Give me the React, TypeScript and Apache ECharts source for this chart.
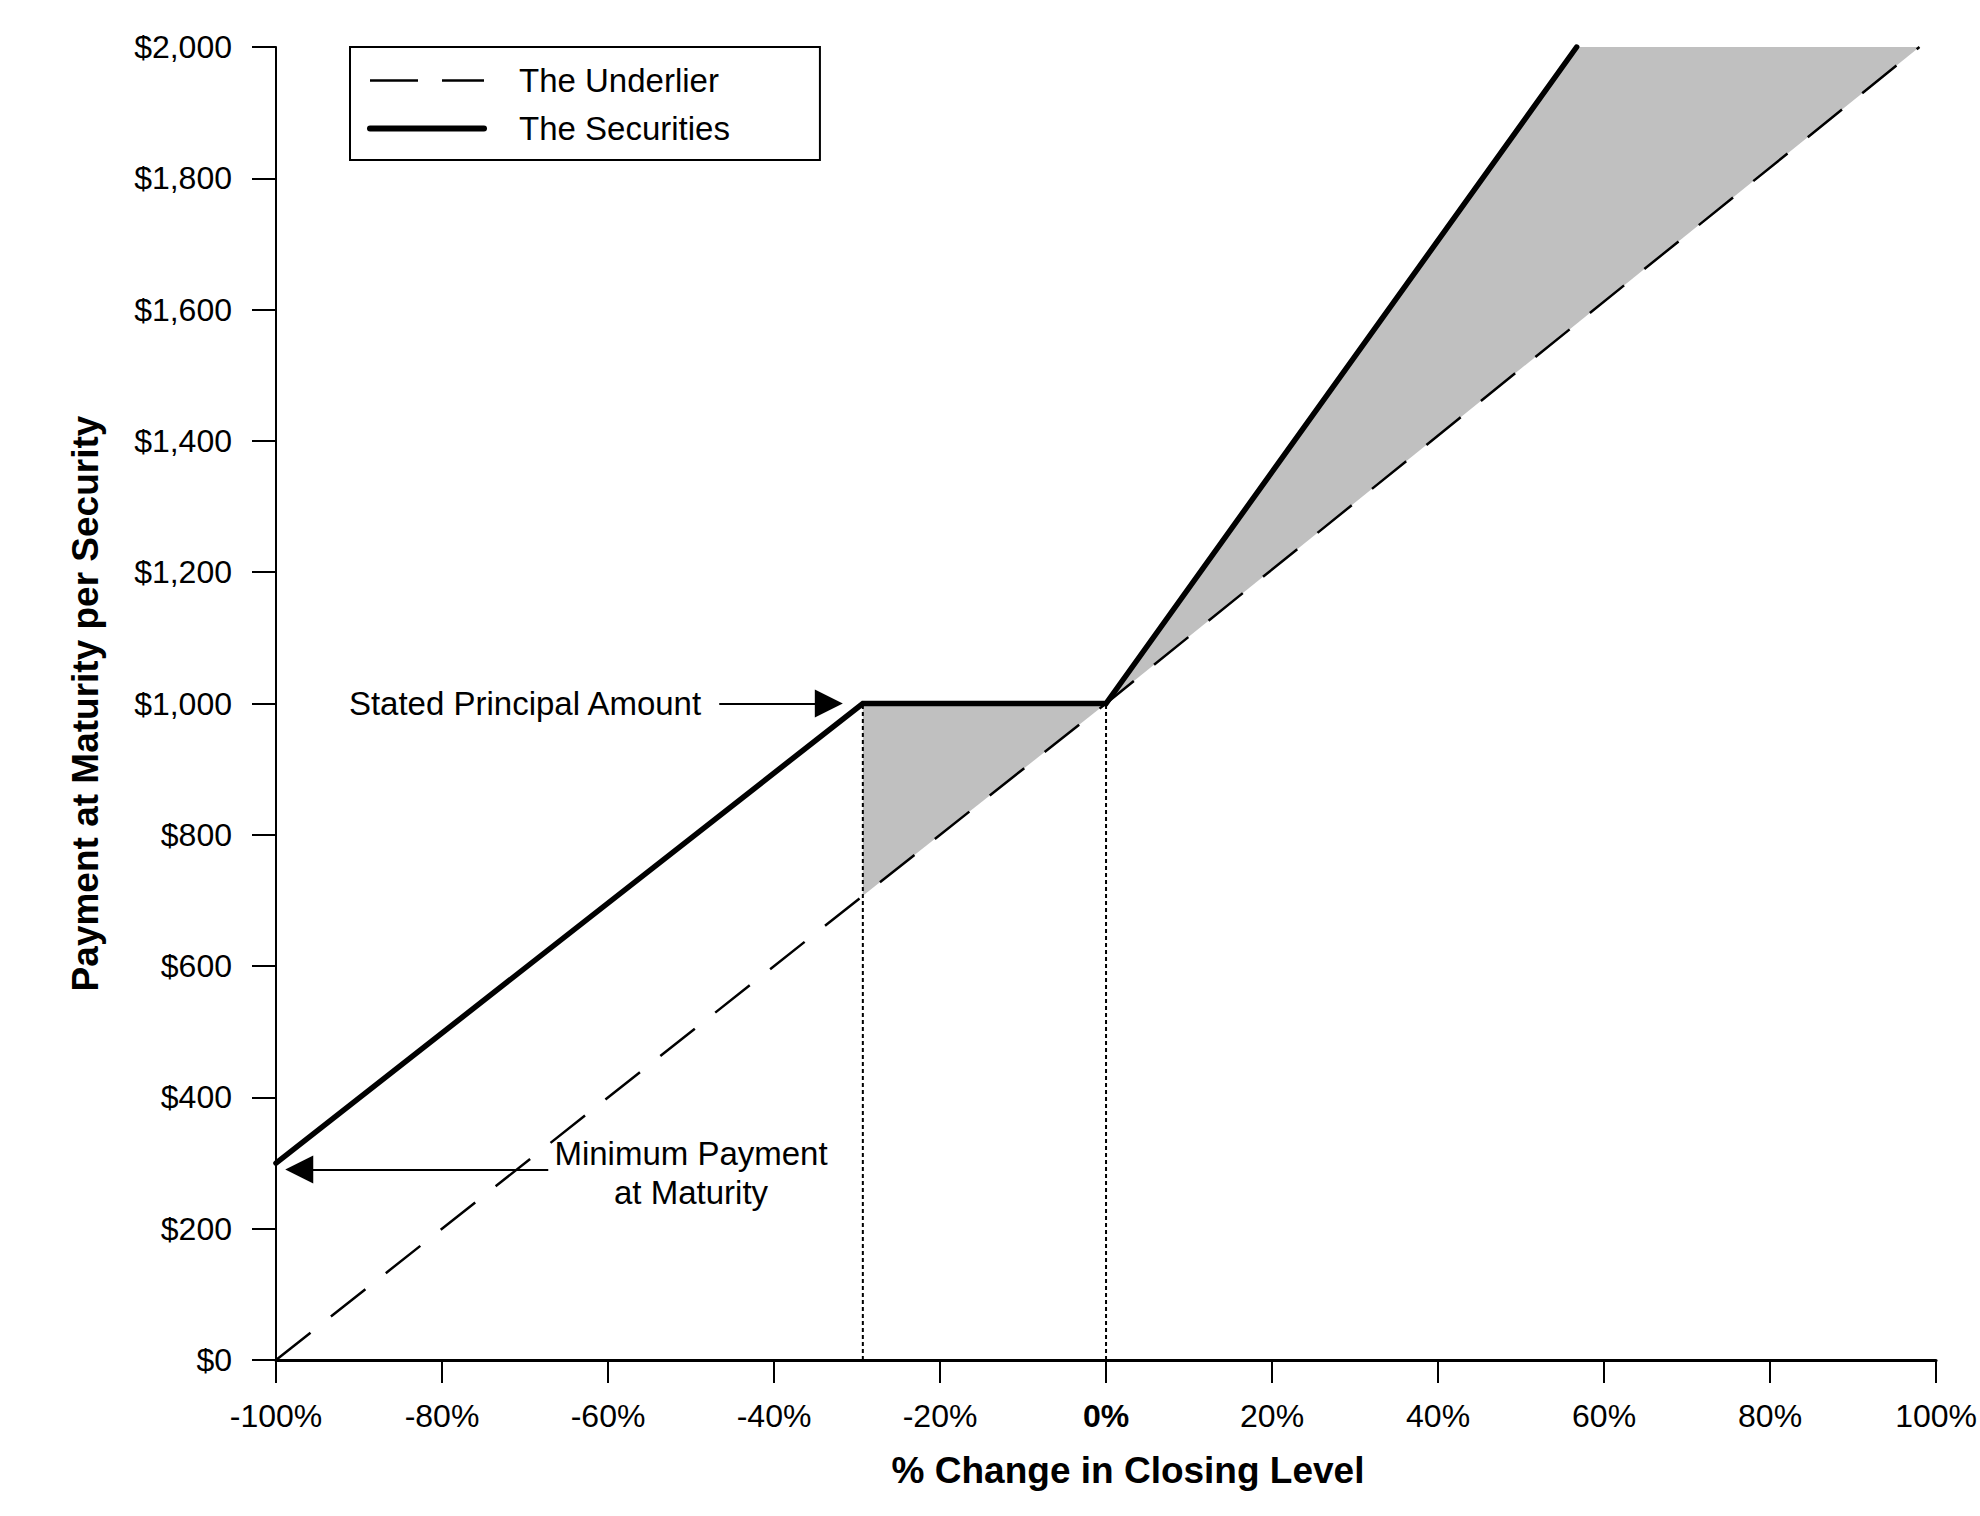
import React, { useEffect, useRef } from 'react';
import * as echarts from 'echarts';

const FONT = '"Liberation Sans", Arial, Helvetica, sans-serif';

// x: % change in closing level, y: payment at maturity ($)
const underlierPct = [-100, 0, 98];
const underlierPay = [0, 1000, 2000];
const securitiesPct = [-100, -29.3, 0, 56.7];
const securitiesPay = [300, 1000, 1000, 2000];

// dotted guides from the axis up to the principal level
const guidePct = [-29.3, 0];
const guideTop = [1000, 1000];

// grey zones where the securities beat the underlier
const bufferZone = [[-29.3, 1000], [0, 1000], [-29.3, 707]];
const upsideZone = [[0, 1000], [56.7, 2000], [98, 2000]];
const shadedZones = [bufferZone, upsideZone];

// annotations
const principalArrow = [[-46.6, 1000], [-33.4, 1000]];
const minimumArrow = [[-67.2, 290], [-97.2, 290]];
const annotationLabels = [
  { name: 'Stated Principal Amount', coord: [-70, 1000] },
  { name: 'Minimum Payment\nat Maturity', coord: [-50, 285] },
];

const xMin = -100;
const xMax = 100;
const xStep = 20;
const yMin = 0;
const yMax = 2000;
const yStep = 200;

function zip(xs: number[], ys: number[]) {
  return xs.map((x, i) => [x, ys[i]]);
}

export default function App() {
  const chartRef = useRef<HTMLDivElement | null>(null);

  useEffect(() => {
    if (!chartRef.current) return;
    const chart = echarts.init(chartRef.current, null, { renderer: 'svg' });

    const guideSeries = guidePct.map((p, i) => ({
      name: 'guide' + i,
      type: 'line' as const,
      data: [[p, yMin], [p, guideTop[i]]],
      symbol: 'none',
      silent: true,
      z: 3,
      lineStyle: { color: '#000', width: 2, type: [4, 3] },
    }));

    const hiddenSymbol = { color: 'rgba(0,0,0,0)', borderWidth: 0, opacity: 0 };

    chart.setOption({
      animation: false,
      backgroundColor: '#fff',
      textStyle: { fontFamily: FONT, color: '#000' },
      grid: { left: 276, right: 37, top: 47, bottom: 156, containLabel: false },
      legend: {
        orient: 'vertical',
        left: 350,
        top: 47,
        padding: [17, 90, 15, 17],
        borderColor: '#000',
        borderWidth: 2,
        itemWidth: 114,
        itemHeight: 33,
        itemGap: 15,
        selectedMode: false,
        textStyle: { fontSize: 33, color: '#000', fontFamily: FONT, padding: [0, 0, 0, 30] },
        data: [
          {
            name: 'The Underlier',
            itemStyle: hiddenSymbol,
            lineStyle: { width: 2.5, type: [48, 24], color: '#000' },
          },
          {
            name: 'The Securities',
            itemStyle: hiddenSymbol,
            lineStyle: { width: 6, color: '#000', cap: 'round' },
          },
        ],
      },
      xAxis: {
        type: 'value',
        min: xMin,
        max: xMax,
        interval: xStep,
        name: '% Change in Closing Level',
        nameLocation: 'middle',
        nameGap: 92,
        nameTextStyle: { fontSize: 37, fontWeight: 'bold', color: '#000', fontFamily: FONT, padding: [0, 0, 0, 44] },
        splitLine: { show: false },
        axisLine: { onZero: false, lineStyle: { color: '#000', width: 3 } },
        axisTick: { show: true, length: 23, lineStyle: { color: '#000', width: 2 } },
        axisLabel: {
          margin: 40,
          fontSize: 32,
          color: '#000',
          fontFamily: FONT,
          formatter: (v: number) => (v === 0 ? '{b|0%}' : v + '%'),
          rich: { b: { fontSize: 32, fontWeight: 'bold', color: '#000', fontFamily: FONT } },
        },
      },
      yAxis: {
        type: 'value',
        min: yMin,
        max: yMax,
        interval: yStep,
        name: 'Payment at Maturity per Security',
        nameLocation: 'middle',
        nameGap: 172,
        nameTextStyle: { fontSize: 37, fontWeight: 'bold', color: '#000', fontFamily: FONT },
        splitLine: { show: false },
        axisLine: { show: true, onZero: false, lineStyle: { color: '#000', width: 2 } },
        axisTick: { show: true, length: 24, lineStyle: { color: '#000', width: 2 } },
        axisLabel: {
          margin: 44,
          fontSize: 32,
          color: '#000',
          fontFamily: FONT,
          formatter: (v: number) => '$' + v.toLocaleString('en-US'),
        },
      },
      series: [
        {
          name: 'zones',
          type: 'custom',
          silent: true,
          z: 1,
          data: shadedZones.map((zone) => zone[0]),
          renderItem: (params: any, api: any) => {
            const zone = shadedZones[params.dataIndex];
            return {
              type: 'polygon',
              shape: { points: zone.map((pt) => api.coord(pt)) },
              style: { fill: '#c0c0c0', stroke: 'none' },
            };
          },
        },
        {
          name: 'The Underlier',
          type: 'line',
          data: zip(underlierPct, underlierPay),
          symbol: 'none',
          z: 4,
          lineStyle: { color: '#000', width: 2.5, type: [44, 26] },
        },
        ...guideSeries,
        {
          name: 'The Securities',
          type: 'line',
          data: zip(securitiesPct, securitiesPay),
          symbol: 'none',
          z: 5,
          lineStyle: { color: '#000', width: 5.5, cap: 'round', join: 'miter' },
          markLine: {
            silent: true,
            symbol: ['none', 'triangle'],
            symbolSize: 28,
            label: { show: false },
            lineStyle: { color: '#000', width: 2, type: 'solid' },
            itemStyle: { color: '#000' },
            emphasis: { disabled: true },
            data: [
              [{ coord: principalArrow[0] }, { coord: principalArrow[1] }],
              [{ coord: minimumArrow[0] }, { coord: minimumArrow[1] }],
            ],
          },
          markPoint: {
            silent: true,
            symbol: 'rect',
            symbolSize: 1,
            itemStyle: { color: 'rgba(0,0,0,0)' },
            label: {
              show: true,
              position: 'inside',
              formatter: '{b}',
              color: '#000',
              fontSize: 33,
              lineHeight: 39,
              align: 'center',
              fontFamily: FONT,
            },
            data: annotationLabels.map((a) => ({ name: a.name, coord: a.coord })),
          },
        },
      ],
    });

    return () => {
      chart.dispose();
    };
  }, []);

  return (
    <div
      ref={chartRef}
      style={{ position: 'fixed', left: 0, top: 0, width: 1980, height: 1516, background: '#fff' }}
    />
  );
}
